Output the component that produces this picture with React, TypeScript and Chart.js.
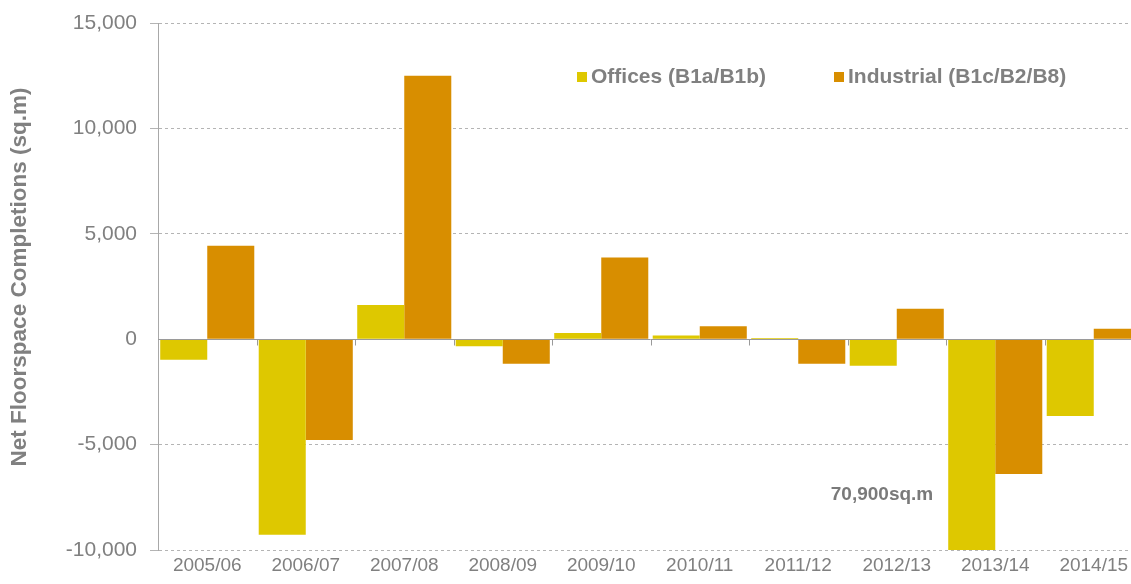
import React, { useEffect, useRef } from "react";
import { Chart, registerables } from "chart.js";

Chart.register(...registerables);

const categories = ["2005/06", "2006/07", "2007/08", "2008/09", "2009/10", "2010/11", "2011/12", "2012/13", "2013/14", "2014/15"];
const offices = [-980, -9280, 1620, -340, 300, 170, 60, -1260, -70900, -3640];
const industrial = [4430, -4780, 12500, -1160, 3870, 620, -1160, 1450, -6400, 500];
const yTicks = [-10000, -5000, 0, 5000, 10000, 15000];
const seriesNames = ["Offices (B1a/B1b)", "Industrial (B1c/B2/B8)"];
const yTitle = "Net Floorspace Completions (sq.m)";
const annotationText = "70,900sq.m";

const OFFICE_COLOR = "#DEC800";
const INDUSTRIAL_COLOR = "#D88E00";
const TEXT_COLOR = "#808080";
const FONT = "'Liberation Sans', Arial, sans-serif";

export default function App() {
  const ref = useRef<HTMLCanvasElement | null>(null);

  useEffect(() => {
    document.body.style.margin = "0";
    document.body.style.overflow = "hidden";
    const canvas = ref.current;
    if (!canvas) return;

    const extras = {
      id: "extras",
      afterDatasetsDraw(chart: any) {
        const { ctx, chartArea, scales } = chart;
        const x = scales.x;
        const y = scales.y;
        const y0 = Math.round(y.getPixelForValue(0)) + 0.5;
        ctx.save();
        ctx.strokeStyle = "#9a9a9a";
        ctx.lineWidth = 1;
        ctx.beginPath();
        ctx.moveTo(chartArea.left, y0);
        ctx.lineTo(chartArea.right, y0);
        for (let i = 1; i < categories.length; i++) {
          const bx = Math.round((x.getPixelForValue(i - 1) + x.getPixelForValue(i)) / 2) + 0.5;
          ctx.moveTo(bx, y0);
          ctx.lineTo(bx, y0 + 6);
        }
        ctx.stroke();
        ctx.restore();
      },
      afterDraw(chart: any) {
        const { ctx, scales } = chart;
        const x = scales.x;
        const y = scales.y;
        ctx.save();
        // y title
        ctx.save();
        ctx.translate(20, 277);
        ctx.rotate(-Math.PI / 2);
        ctx.font = `bold 22.5px ${FONT}`;
        ctx.fillStyle = TEXT_COLOR;
        ctx.textAlign = "center";
        ctx.textBaseline = "middle";
        ctx.fillText(yTitle, 0, 0);
        ctx.restore();
        // legend
        ctx.font = `bold 21px ${FONT}`;
        ctx.textBaseline = "middle";
        ctx.textAlign = "left";
        const ly = 77;
        const items = [
          { name: seriesNames[0], color: OFFICE_COLOR, x: 577 },
          { name: seriesNames[1], color: INDUSTRIAL_COLOR, x: 834 },
        ];
        items.forEach((it) => {
          ctx.fillStyle = it.color;
          ctx.fillRect(it.x, ly - 5, 10, 10);
          ctx.fillStyle = TEXT_COLOR;
          ctx.fillText(it.name, it.x + 14, ly);
        });
        // annotation
        ctx.font = `bold 19px ${FONT}`;
        ctx.textAlign = "right";
        ctx.fillStyle = "#7a7a7a";
        const ax = x.getPixelForValue(8) - 62;
        const ay = y.getPixelForValue(-7400);
        ctx.fillText(annotationText, ax, ay);
        ctx.restore();
      },
    };

    const chart = new Chart(canvas, {
      type: "bar",
      data: {
        labels: categories,
        datasets: [
          {
            label: seriesNames[0],
            data: offices,
            backgroundColor: OFFICE_COLOR,
            categoryPercentage: 0.955,
            barPercentage: 1.0,
          },
          {
            label: seriesNames[1],
            data: industrial,
            backgroundColor: INDUSTRIAL_COLOR,
            categoryPercentage: 0.955,
            barPercentage: 1.0,
          },
        ],
      },
      options: {
        responsive: false,
        animation: false,
        layout: { padding: { top: 23, right: 17, left: 0, bottom: 0 } },
        plugins: {
          legend: { display: false },
          tooltip: { enabled: false },
        },
        scales: {
          x: {
            grid: { display: false, drawTicks: false },
            border: { display: false },
            ticks: {
              color: TEXT_COLOR,
              font: { family: FONT, size: 19 },
              padding: 4,
              maxRotation: 0,
              autoSkip: false,
            },
            afterFit: (scale: any) => {
              scale.height = 34;
            },
          },
          y: {
            min: -10000,
            max: 15000,
            afterBuildTicks: (scale: any) => {
              scale.ticks = yTicks.map((v) => ({ value: v }));
            },
            afterFit: (scale: any) => {
              scale.width = 158;
              scale.paddingTop = 0;
              scale.paddingBottom = 0;
            },
            grid: {
              color: (ctx: any) => (ctx.tick && ctx.tick.value === 0 ? "rgba(0,0,0,0)" : "#b4b4b4"),
              tickLength: 8,
              lineWidth: 1,
            },
            border: { display: true, color: "#a8a8a8", dash: [3, 3] as any },
            ticks: {
              color: TEXT_COLOR,
              font: { family: FONT, size: 21, lineHeight: 1 },
              padding: 13,
              callback: (v: any) => Number(v).toLocaleString("en-US"),
            },
          },
        },
      },
      plugins: [extras],
    });

    return () => chart.destroy();
  }, []);

  return (
    <div style={{ width: 1131, height: 584, overflow: "hidden", position: "relative" }}>
      <canvas ref={ref} width={1160} height={584} style={{ display: "block" }} />
    </div>
  );
}
